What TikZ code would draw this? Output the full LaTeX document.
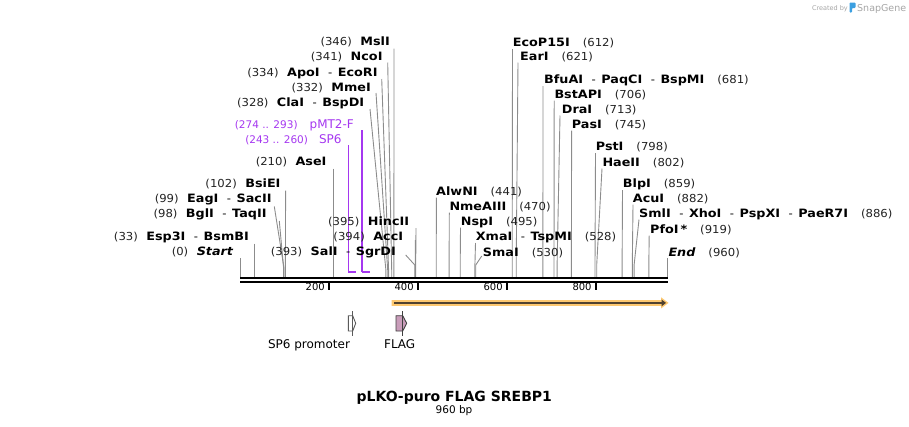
\documentclass[tikz,border=0pt]{standalone}
\usepackage{fontspec}
\setmainfont{DejaVu Sans}[ItalicFont={DejaVu Sans Oblique},BoldFont={DejaVu Sans Bold},BoldItalicFont={DejaVu Sans Bold Oblique}]
\newfontfamily\boldlbl{DejaVu Sans Bold}[FakeStretch=1.11]
\newfontfamily\boldilbl{DejaVu Sans Bold Oblique}[FakeStretch=1.11]
\newfontfamily\numlbl{DejaVu Sans}[FakeStretch=1.06]
\usetikzlibrary{arrows.meta,calc}
\definecolor{numc}{RGB}{34,34,34}
\definecolor{cutc}{RGB}{140,140,140}
\definecolor{primc}{RGB}{165,55,240}
\definecolor{flagc}{RGB}{201,157,186}
\definecolor{orfhalo}{RGB}{253,200,112}
\definecolor{orfline}{RGB}{80,66,48}
\definecolor{sgray}{RGB}{165,165,165}
\definecolor{logoc}{RGB}{60,160,225}
\definecolor{featline}{RGB}{90,90,90}

\newcommand\NUM[1]{{\numlbl\fontsize{11}{13}\selectfont\color{numc}#1}}
\newcommand\PNUM[1]{{\rmfamily\fontsize{10.5}{13}\selectfont #1}}
\newcommand\NM[1]{{\boldlbl\fontsize{11.5}{13}\selectfont #1}}
\newcommand\NMI[1]{{\boldilbl\fontsize{11.5}{13}\selectfont #1}}
\newcommand\DSH{\hspace{8.5pt}{\numlbl\fontsize{11}{13}\selectfont -}\hspace{5.5pt}}
\newcommand\LG{\hspace{8.5pt}}
\newcommand\RG{\hspace{13pt}}

\newcommand\cutsite[5]{%
  \coordinate (t#1) at (#2,#3);
  \coordinate (c#1) at (#4,277);
  \coordinate (k#1) at (#4,#5);
  \draw[cutline] (t#1) -- (k#1) -- (c#1);}

\begin{document}
\begin{tikzpicture}[x=1pt,y=-1pt,
  lab/.style={inner sep=0pt, anchor=base east},
  rlab/.style={inner sep=0pt, anchor=base west},
  cutline/.style={draw=cutc, line width=0.9pt},
  primer/.style={draw=primc, line width=1.3pt},
  tickmark/.style={draw=black, line width=1.8pt},
  ticklab/.style={inner sep=0pt, anchor=base east, font=\fontsize{10}{12}\selectfont},
  featname/.style={inner sep=0pt, anchor=base, font=\fontsize{12}{14}\selectfont}]
\useasboundingbox (0,0) rectangle (909,426);

% ---------- cut-site connectors ----------
\cutsite{346}{394}{48.5}{393.9}{268}
\cutsite{341}{387.7}{62.5}{391.7}{270}
\cutsite{334}{381.7}{79}{388.6}{270}
\cutsite{332}{376}{93}{387.7}{270}
\cutsite{328}{370}{109}{385.9}{270}
\cutsite{210}{333.4}{168.5}{333.4}{265}
\cutsite{102}{285.6}{190.5}{285.4}{265}
\cutsite{99}{274.3}{206.5}{284.0}{268}
\cutsite{98}{279.3}{221}{283.6}{268}
\cutsite{395}{416}{228}{415.7}{265}
\cutsite{394}{415.4}{240}{415.3}{265}
\cutsite{33}{254.7}{243.5}{254.7}{265}
\cutsite{0}{240.4}{258}{240.4}{265}
\cutsite{393}{405.7}{255}{414.8}{265}

\cutsite{612}{512.5}{49}{512.2}{265}
\cutsite{621}{518}{62.5}{516.2}{265}
\cutsite{681}{543}{86}{542.9}{265}
\cutsite{706}{554.2}{100.5}{554.0}{265}
\cutsite{713}{560}{115.5}{557.1}{265}
\cutsite{745}{571.6}{130.5}{571.4}{265}
\cutsite{798}{595.5}{153}{595.0}{265}
\cutsite{802}{602}{168.5}{596.7}{265}
\cutsite{859}{622.5}{190}{622.1}{265}
\cutsite{882}{633}{204.5}{632.3}{265}
\cutsite{886}{639}{219.5}{634.1}{265}
\cutsite{919}{649.2}{235.5}{648.8}{265}
\cutsite{960}{667.3}{258}{667.3}{265}
\cutsite{441}{436.4}{197.5}{436.2}{265}
\cutsite{470}{449.3}{212.5}{449.1}{265}
\cutsite{495}{460.5}{227.5}{460.2}{265}
\cutsite{528}{475.5}{243}{474.9}{265}
\cutsite{530}{481.7}{256}{475.7}{265}

% ---------- primers ----------
\coordinate (pmtTop) at (361.9,130);
\coordinate (pmtA) at (361.9,271.7);
\coordinate (pmtB) at (370.3,271.7);
\coordinate (spTop) at (348.4,145);
\coordinate (spA) at (348.4,271.7);
\coordinate (spB) at (355.6,271.7);
\draw[primer] (pmtTop) -- (pmtA);
\draw[draw=primc, line width=2pt] (pmtA) -- (pmtB);
\draw[primer] (spTop) -- (spA);
\draw[draw=primc, line width=2pt] (spA) -- (spB);

% ---------- left labels ----------
\node[lab] (l346) at (390,45.7) {\NUM{(346)}\LG\NM{MslI}};
\node[lab] (l341) at (382.7,60.7) {\NUM{(341)}\LG\NM{NcoI}};
\node[lab] (l334) at (377.7,76) {\NUM{(334)}\LG\NM{ApoI}\DSH\NM{EcoRI}};
\node[lab] (l332) at (371,91) {\NUM{(332)}\LG\NM{MmeI}};
\node[lab] (l328) at (364.3,106) {\NUM{(328)}\LG\NM{ClaI}\DSH\NM{BspDI}};
\node[lab, text=primc] (lpmt) at (354,128) {\PNUM{(274 .. 293)}\hspace{12pt}{\rmfamily\fontsize{12}{14}\selectfont pMT2-F}};
\node[lab, text=primc] (lsp6) at (341.7,143.3) {\PNUM{(243 .. 260)}\hspace{11pt}{\rmfamily\fontsize{12}{14}\selectfont SP6}};
\node[lab] (l210) at (326.7,165.7) {\NUM{(210)}\LG\NM{AseI}};
\node[lab] (l102) at (280.7,187.7) {\NUM{(102)}\LG\NM{BsiEI}};
\node[lab] (l99) at (271.7,202.7) {\NUM{(99)}\LG\NM{EagI}\DSH\NM{SacII}};
\node[lab] (l98) at (266.7,217.7) {\NUM{(98)}\LG\NM{BglI}\DSH\NM{TaqII}};
\node[lab] (l395) at (409.3,225.7) {\NUM{(395)}\LG\NM{HincII}};
\node[lab] (l33) at (249,240.7) {\NUM{(33)}\LG\NM{Esp3I}\DSH\NM{BsmBI}};
\node[lab] (l394) at (403.3,240.7) {\NUM{(394)}\LG\NM{AccI}};
\node[lab] (l0) at (233.3,255.7) {\NUM{(0)}\LG\NMI{Start}};
\node[lab] (l393) at (396,255.7) {\NUM{(393)}\LG\NM{SalI}\DSH\NM{SgrDI}};

% ---------- right labels ----------
\node[rlab] (r612) at (512.7,46.7) {\NM{EcoP15I}\RG\NUM{(612)}};
\node[rlab] (r621) at (520,60.7) {\NM{EarI}\RG\NUM{(621)}};
\node[rlab] (r681) at (544,83.3) {\NM{BfuAI}\DSH\NM{PaqCI}\DSH\NM{BspMI}\RG\NUM{(681)}};
\node[rlab] (r706) at (554.3,98.3) {\NM{BstAPI}\RG\NUM{(706)}};
\node[rlab] (r713) at (561.7,113.3) {\NM{DraI}\RG\NUM{(713)}};
\node[rlab] (r745) at (571.7,128.3) {\NM{PasI}\RG\NUM{(745)}};
\node[rlab] (r798) at (595.7,150.7) {\NM{PstI}\RG\NUM{(798)}};
\node[rlab] (r802) at (602.3,166.7) {\NM{HaeII}\RG\NUM{(802)}};
\node[rlab] (r859) at (622.7,187.7) {\NM{BlpI}\RG\NUM{(859)}};
\node[rlab] (r882) at (632.7,202.7) {\NM{AcuI}\RG\NUM{(882)}};
\node[rlab] (r886) at (639,217.7) {\NM{SmlI}\DSH\NM{XhoI}\DSH\NM{PspXI}\DSH\NM{PaeR7I}\RG\NUM{(886)}};
\node[rlab] (r919) at (650,233.3) {\NM{PfoI\,*}\RG\NUM{(919)}};
\node[rlab] (r960) at (668.3,256) {\NMI{End}\RG\NUM{(960)}};
\node[rlab] (r441) at (436,195.7) {\NM{AlwNI}\RG\NUM{(441)}};
\node[rlab] (r470) at (449.3,210.7) {\NM{NmeAIII}\RG\NUM{(470)}};
\node[rlab] (r495) at (460.7,225.7) {\NM{NspI}\RG\NUM{(495)}};
\node[rlab] (r528) at (475.7,240.7) {\NM{XmaI}\DSH\NM{TspMI}\RG\NUM{(528)}};
\node[rlab] (r530) at (482.7,256) {\NM{SmaI}\RG\NUM{(530)}};

% ---------- backbone ----------
\coordinate (bbL1) at (240,278);
\coordinate (bbR1) at (668,278);
\coordinate (bbL2) at (240,282);
\coordinate (bbR2) at (668,282);
\draw[line width=2.6pt] (bbL1) -- (bbR1);
\draw[line width=2.6pt] (bbL2) -- (bbR2);

% ---------- ticks ----------
\foreach \v/\xx in {200/329,400/417.9,600/506.9,800/595.8}{
  \coordinate (tk\v) at (\xx,283);
  \draw[tickmark] (tk\v) -- ++(0,7);
  \node[ticklab] (tl\v) at (\xx-4,290.7) {\v};
}

% ---------- ORF arrow ----------
\fill[orfhalo] (391.7,300) -- (661,300) -- (661,297.3) -- (668.5,302.9) -- (661,308.5) -- (661,305.8) -- (391.7,305.8) -- cycle;
\coordinate (orfS) at (394,302.9);
\coordinate (orfE) at (666,302.9);
\draw[orfline, line width=1.7pt, -{Triangle[length=4.5pt,width=6.5pt]}] (orfS) -- (orfE);

% ---------- features ----------
\draw[featline, line width=0.9pt, fill=white] (348.3,315.7) -- (352.7,315.7) -- (355.7,323.3) -- (352.7,331) -- (348.3,331) -- cycle;
\draw[featline, line width=0.9pt] (352.7,311) -- (352.7,335.7);
\draw[draw=black!75, line width=0.9pt, fill=flagc] (396,315.7) -- (402.7,315.7) -- (406.7,323.3) -- (402.7,331) -- (396,331) -- cycle;
\draw[draw=black!75, line width=0.9pt] (402.7,311) -- (402.7,335.7);
\node[featname] (fsp6) at (309,348.5) {SP6 promoter};
\node[featname] (fflag) at (399.7,348.5) {FLAG};

% ---------- title ----------
\node[inner sep=0pt, anchor=base, font=\fontsize{14}{16}\selectfont\bfseries] (title) at (454.3,401.7) {pLKO-puro FLAG SREBP1};
\node[inner sep=0pt, anchor=base, font=\fontsize{10.5}{12}\selectfont] (size) at (454,413.3) {960 bp};

% ---------- credit ----------
\node[inner sep=0pt, anchor=base east, text=sgray, font=\fontsize{6.5}{8}\selectfont] (cby) at (848,10) {Created by};
\fill[logoc, rounded corners=0.8pt] (849.5,2.5) -- (855.5,2.5) -- (855.5,8) -- (852,8) -- (852,12.5) -- (849.5,12.5) -- cycle;
\node[inner sep=0pt, anchor=base west, text=sgray, font=\fontsize{9.5}{11}\selectfont] (csg) at (857,11) {SnapGene};
\end{tikzpicture}
\end{document}
